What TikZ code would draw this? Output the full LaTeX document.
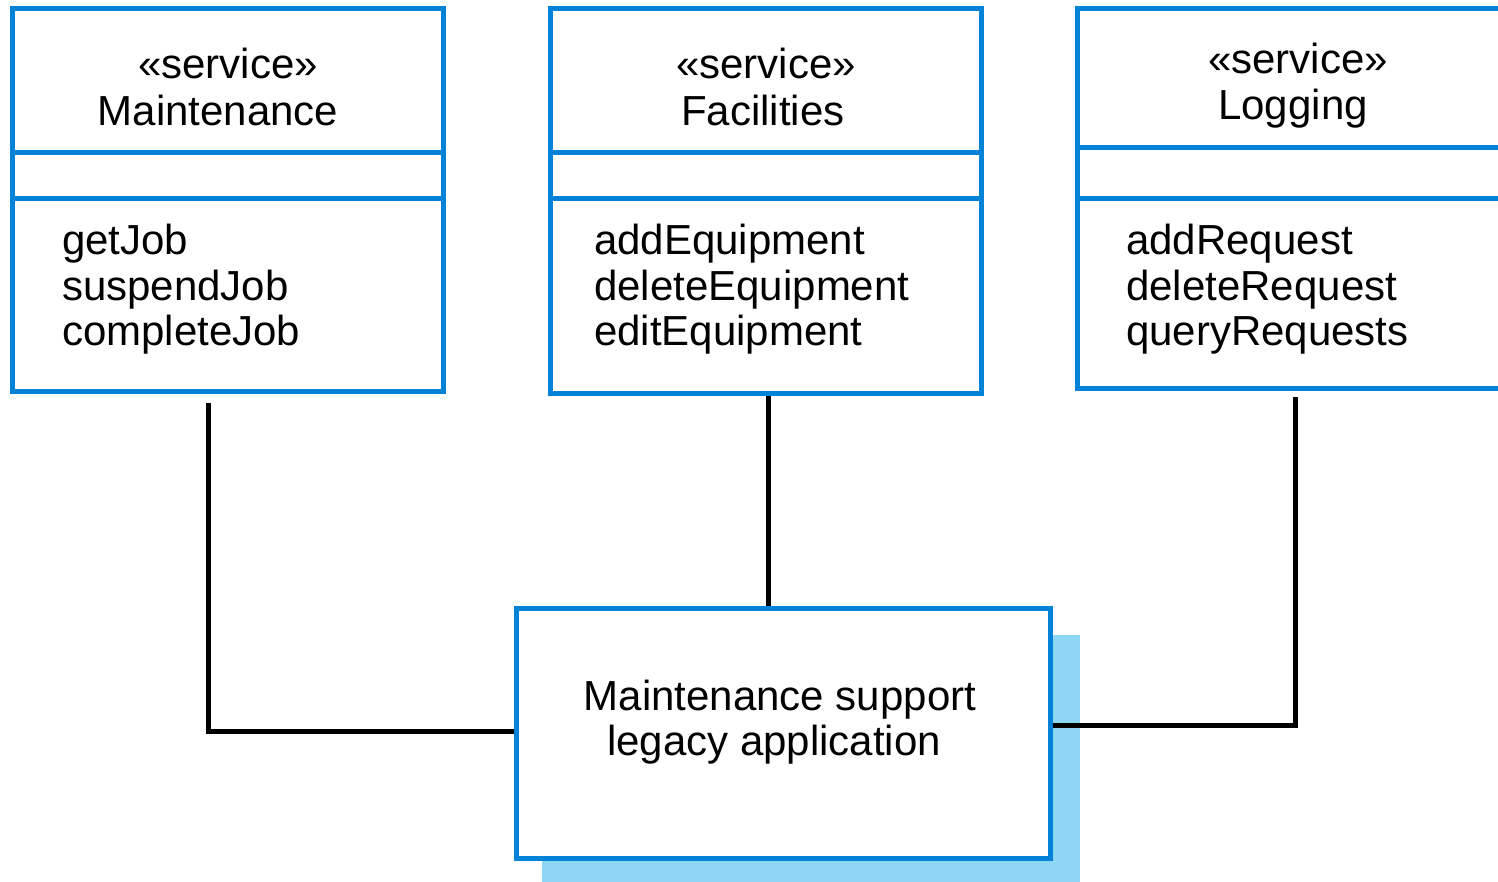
\documentclass[tikz,border=0pt]{standalone}
\usepackage{fontspec}
\setmainfont{Liberation Sans}
\definecolor{umlblue}{RGB}{4,130,216}
\definecolor{shadowblue}{RGB}{142,214,243}
\begin{document}
\begin{tikzpicture}[x=1pt,y=-1pt,
  classbox/.style={draw=umlblue,line width=5pt,fill=white,rectangle,inner sep=0pt},
  divider/.style={draw=umlblue,line width=5pt},
  txt/.style={inner sep=0pt,anchor=base,font=\fontsize{42}{45.5}\selectfont},
  optxt/.style={inner sep=0pt,anchor=north west,align=left,font=\fontsize{42}{45.5}\selectfont},
  link/.style={draw=black,line width=5pt}]
\clip (0,0) rectangle (1498,881);
\fill[white] (0,0) rectangle (1498,881);
% class boxes
\node[classbox,minimum width=431pt,minimum height=383pt] (m) at (228,200) {};
\draw[divider] (13,152.5) -- (443.5,152.5);
\draw[divider] (13,198.5) -- (443.5,198.5);
\node[txt] (ms) at (228,78) {«service»};
\node[txt] (mn) at (218,125) {Maintenance};
\node[optxt] (mo) at (62,224) {getJob\\suspendJob\\completeJob};

\node[classbox,minimum width=431pt,minimum height=385pt] (f) at (766,200.5) {};
\draw[divider] (551,152.5) -- (981,152.5);
\draw[divider] (551,198.5) -- (981,198.5);
\node[txt] (fs) at (766,78) {«service»};
\node[txt] (fn) at (763,125) {Facilities};
\node[optxt] (fo) at (594,224) {addEquipment\\deleteEquipment\\editEquipment};

\node[classbox,minimum width=460pt,minimum height=380pt] (l) at (1307,198.5) {};
\draw[divider] (1077,147.5) -- (1540,147.5);
\draw[divider] (1077,198.5) -- (1540,198.5);
\node[txt] (ls) at (1298,73) {«service»};
\node[txt] (ln) at (1293,119) {Logging};
\node[optxt] (lo) at (1126,224) {addRequest\\deleteRequest\\queryRequests};

% legacy application with shadow
\fill[shadowblue] (542,635) rectangle (1080,890);
\node[classbox,minimum width=534pt,minimum height=250pt] (a) at (783,733) {};
\node[txt] (a1) at (780,710) {Maintenance support};
\node[txt] (a2) at (774,755) {legacy application};

% connectors
\coordinate (c1) at (208,403);
\coordinate (c1b) at (208,731);
\coordinate (c3) at (1295,397);
\coordinate (c3b) at (1295,725);
\draw[link] (c1) -- (c1b) -- (a.west |- c1b);
\draw[link] (f.south -| 768,0) -- (a.north -| 768,0);
\draw[link] (c3) -- (c3b) -- (a.east |- c3b);
\end{tikzpicture}
\end{document}
